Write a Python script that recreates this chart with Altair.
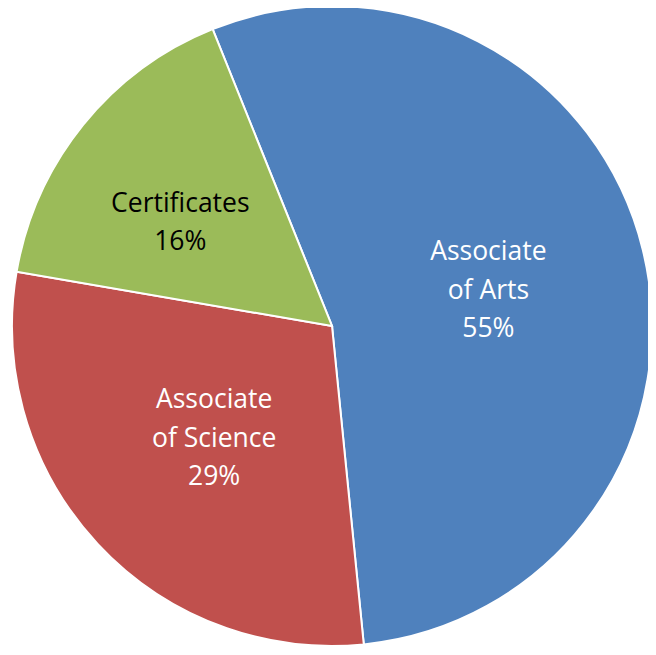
import math
import altair as alt
import pandas as pd

categories = ["Associate of Arts", "Associate of Science", "Certificates"]
label_lines = ["Associate\nof Arts", "Associate\nof Science", "Certificates"]
shares = [54.5, 29.3, 16.2]          # slice sizes
pct_labels = [55, 29, 16]            # percentages printed on the slices
colors = ["#4F81BD", "#C0504D", "#9BBB59"]

df = pd.DataFrame({
    "cat": categories,
    "share": shares,
    "order": list(range(len(categories))),
    "label": [f"{l}\n{p}%" for l, p in zip(label_lines, pct_labels)],
})

start = math.radians(338.1)
theta_scale = alt.Scale(range=[start, start + 2 * math.pi])
CX, CY, R = 324, 318, 320
LH = 38.5

base = alt.Chart(df).encode(
    theta=alt.Theta("share:Q", stack=True, scale=theta_scale),
    order=alt.Order("order:Q"),
    x=alt.value(CX),
    y=alt.value(CY),
)

shadow = alt.Chart(pd.DataFrame({"v": [1]})).mark_arc(
    radius=R + 1, color="#d0d0d0", opacity=0.8
).encode(theta=alt.Theta("v:Q"), x=alt.value(CX + 1), y=alt.value(CY + 2))

arcs = base.mark_arc(radius=R, stroke="white", strokeWidth=2).encode(
    color=alt.Color("cat:N", scale=alt.Scale(domain=categories, range=colors), legend=None)
)

labels = alt.Chart(df).transform_window(
    cum="sum(share)", sort=[alt.SortField("order")], frame=[None, 0]
).transform_joinaggregate(
    total="sum(share)"
).transform_calculate(
    mid=f"{start} + 2*PI*(datum.cum - datum.share/2)/datum.total"
        " + (datum.cat == 'Certificates' ? -0.07 : 0)",
    lr="datum.cat == 'Certificates' ? 185 : 161",
    nl="length(split(datum.label, '\\n'))",
).transform_calculate(
    lx=f"{CX} + datum.lr*sin(datum.mid)",
    ly=f"{CY} + 3 - datum.lr*cos(datum.mid) - (datum.nl - 1)/2*{LH}",
).mark_text(
    font="Open Sans", fontSize=26.5, lineBreak="\n", lineHeight=LH,
    align="center", baseline="middle"
).encode(
    x=alt.X("lx:Q", scale=None),
    y=alt.Y("ly:Q", scale=None),
    text="label:N",
    color=alt.condition("datum.cat == 'Certificates'", alt.value("#000000"), alt.value("#ffffff")),
)

chart = alt.layer(shadow, arcs, labels).properties(
    width=640, height=639, autosize="none", padding=0
).configure_view(stroke=None)

chart.save("out.html", embed_options={"renderer": "svg", "actions": False})
